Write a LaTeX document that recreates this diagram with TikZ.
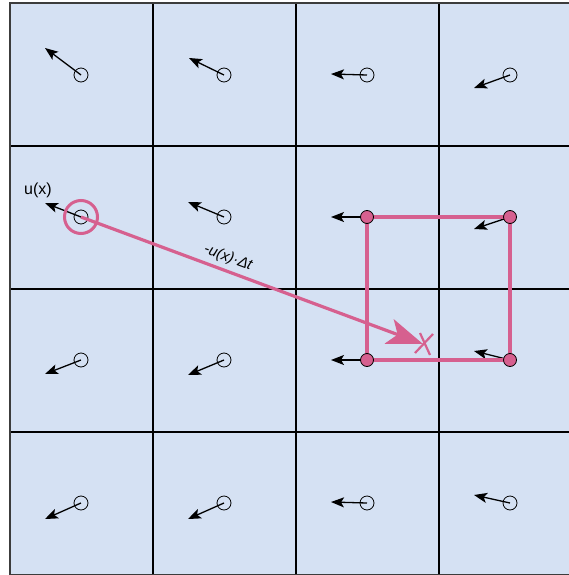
\documentclass[tikz,border=0pt]{standalone}
\usepackage{fontspec}
\setmainfont{Liberation Sans}
\usetikzlibrary{arrows.meta}
\definecolor{cellfill}{RGB}{213,225,243}
\definecolor{pinkc}{RGB}{214,96,143}
\definecolor{edgegray}{RGB}{60,60,60}
\begin{document}
\begin{tikzpicture}[x=1pt,y=-1pt,
  probe/.style={circle,draw=black,line width=0.8pt,minimum size=14pt,inner sep=0pt},
  corner/.style={circle,draw=black,fill=pinkc,line width=0.8pt,minimum size=13pt,inner sep=0pt},
  vec/.style={line width=1.3pt,-{Stealth[length=13pt,width=10pt,inset=3pt]}},
  gridline/.style={line width=1.8pt,black},
  pinkline/.style={draw=pinkc,line width=3.2pt},
  lbl/.style={inner sep=0pt,text=black}]
\useasboundingbox (0,0) rectangle (569,575);
\clip (0,0) rectangle (569,575);
% cells
\fill[cellfill] (10,3) rectangle (582,575);
\foreach \x in {153,296,439} \draw[gridline] (\x,3) -- (\x,575);
\foreach \y in {146,289,432} \draw[gridline] (10,\y) -- (582,\y);
\draw[edgegray,line width=2.2pt] (10,3) rectangle (582,575);
% tips of velocity arrows
\coordinate (t00) at (45,48);  \coordinate (t01) at (189,58);  \coordinate (t02) at (331,74);  \coordinate (t03) at (474,88);
\coordinate (t10) at (45,203); \coordinate (t11) at (188,202); \coordinate (t12) at (331,217); \coordinate (t13) at (474,229);
\coordinate (t20) at (45,374); \coordinate (t21) at (188,375); \coordinate (t22) at (331,360); \coordinate (t23) at (474,351);
\coordinate (t30) at (45,519); \coordinate (t31) at (188,519); \coordinate (t32) at (331,502); \coordinate (t33) at (474,495);
% sample points (centres)
\coordinate (p00) at (81,75);  \coordinate (p01) at (224,75);  \coordinate (p02) at (367,75);  \coordinate (p03) at (510,75);
\coordinate (p10) at (81,217); \coordinate (p11) at (224,217); \coordinate (p12) at (367,217); \coordinate (p13) at (510,217);
\coordinate (p20) at (81,360); \coordinate (p21) at (224,360); \coordinate (p22) at (367,360); \coordinate (p23) at (510,360);
\coordinate (p30) at (81,503); \coordinate (p31) at (224,503); \coordinate (p32) at (367,503); \coordinate (p33) at (510,503);
% velocity arrows
\foreach \i in {00,01,02,03,10,11,12,13,20,21,22,23,30,31,32,33}
  \draw[vec] (p\i) -- (t\i);
% open probe circles
\foreach \i in {00,01,02,03,10,11,20,21,30,31,32,33}
  \node[probe] (c\i) at (p\i) {};
% pink interpolation square
\draw[pinkline] (p12) -- (p13) -- (p23) -- (p22) -- cycle;
\foreach \i in {12,13,22,23}
  \node[corner] (c\i) at (p\i) {};
% back-trace
\node[circle,draw=pinkc,line width=3pt,minimum size=33pt,inner sep=0pt] (ring) at (p10) {};
\coordinate (xtip) at (423,344);
\draw[pinkline,-{Stealth[length=36pt,width=26pt,inset=9pt]}] (c10.center) -- (xtip);
\coordinate (xm) at (425,344);
\draw[pinkc,line width=2.2pt] ([shift={(-10,9)}]xm) -- ([shift={(8,-10)}]xm)
                             ([shift={(-5,-11)}]xm) -- ([shift={(5,11)}]xm);
% labels
\node[lbl,font=\fontsize{16}{18}\selectfont] (ulab) at (38,190) {u(x)};
\node[lbl,font=\itshape\fontsize{15}{17}\selectfont,rotate=-20.4] (dlab) at (228,258) {-u(x)·Δt};
\end{tikzpicture}
\end{document}
